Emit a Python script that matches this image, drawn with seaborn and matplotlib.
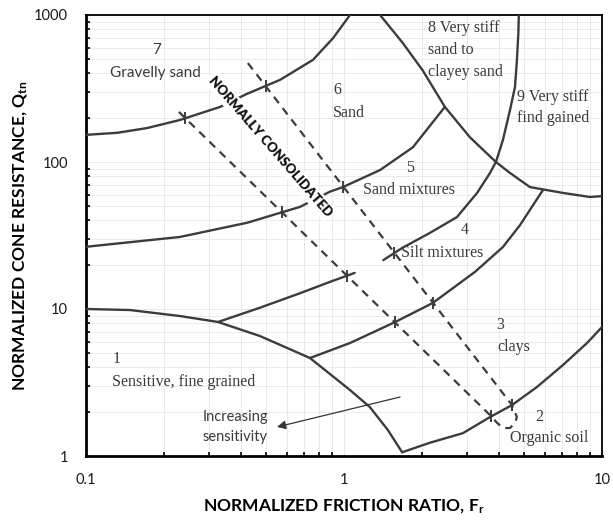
import numpy as np
import matplotlib
matplotlib.use("Agg")
import matplotlib.pyplot as plt
import seaborn as sns

sns.set_theme(style="white")
plt.rcParams["font.family"] = ["Lato", "DejaVu Sans"]
plt.rcParams["mathtext.fontset"] = "custom"
plt.rcParams["mathtext.rm"] = "Lato:bold"
plt.rcParams["mathtext.it"] = "Lato:bold"
plt.rcParams["mathtext.bf"] = "Lato:bold"

# ---- zone boundaries (normalized friction ratio Fr, normalized cone resistance Qtn)
zone1_fr = [0.10, 0.148, 0.231, 0.325, 0.472, 0.738, 1.055, 1.26, 1.48, 1.68]
zone1_q = [10.0, 9.84, 8.96, 8.16, 6.55, 4.64, 2.81, 2.15, 1.50, 1.06]

organic_fr = [1.68, 2.15, 2.89, 3.68, 4.48, 5.60, 7.06, 8.75, 10.0]
organic_q = [1.06, 1.23, 1.43, 1.84, 2.22, 2.95, 4.16, 5.87, 7.54]

clay_fr = [0.738, 1.055, 1.58, 2.21, 3.22, 4.13, 4.81, 5.90]
clay_q = [4.64, 5.87, 8.16, 11.0, 17.9, 26.4, 37.2, 64.4]

siltlow_fr = [0.325, 0.472, 0.675, 0.883, 1.10]
siltlow_q = [8.16, 10.2, 12.8, 15.3, 17.6]

silt_fr = [1.42, 1.68, 2.15, 2.74, 3.28, 3.68, 3.88, 4.13, 4.40, 4.60, 4.68, 4.74, 4.76]
silt_q = [21.5, 26.0, 32.9, 42.2, 61.6, 84.2, 100, 141, 226, 324, 495, 754, 1000]

sand_fr = [0.10, 0.231, 0.421, 0.675, 0.883, 0.99, 1.38, 1.85, 2.46]
sand_q = [26.5, 30.9, 38.6, 49.5, 62.9, 67.5, 88.2, 126, 237]

gravel_fr = [0.10, 0.132, 0.172, 0.231, 0.331, 0.421, 0.565, 0.758, 0.908, 1.055]
gravel_q = [153, 158, 170, 193, 237, 291, 362, 495, 698, 1000]

stiff_fr = [1.38, 1.69, 2.02, 2.46, 3.08, 3.88, 4.40, 5.26, 7.06, 8.98, 10.0]
stiff_q = [1000, 645, 419, 237, 147, 100, 84.2, 67.5, 61.6, 57.8, 58.6]

# normally consolidated band: right edge down, rounded toe, left edge up
nc_fr = [0.424, 4.48, 4.68, 4.60, 4.40, 4.13, 3.92, 3.68, 0.221]
nc_q = [471, 2.22, 1.84, 1.68, 1.55, 1.55, 1.68, 1.90, 233]

x_ticks = [0.1, 1, 10]
x_tick_labels = ["0.1", "1", "10"]
y_ticks = [1, 10, 100, 1000]
y_tick_labels = ["1", "10", "100", "1000"]

LINE = "#3c3c3c"
TEXT = "#3a3a3a"

fig = plt.figure(figsize=(6.13, 5.21), dpi=100)
ax = fig.add_axes([86 / 613, 65 / 521, 516 / 613, 441 / 521])
ax.set_xscale("log")
ax.set_yscale("log")
ax.set_xlim(0.1, 10)
ax.set_ylim(1, 1000)

ax.grid(True, which="both", color="#e6e6e6", lw=0.6)
ax.set_axisbelow(True)

solid = [
    (zone1_fr, zone1_q),
    (organic_fr, organic_q),
    (clay_fr, clay_q),
    (siltlow_fr, siltlow_q),
    (silt_fr, silt_q),
    (sand_fr, sand_q),
    (gravel_fr, gravel_q),
    (stiff_fr, stiff_q),
]
for fr, q in solid:
    sns.lineplot(x=fr, y=q, ax=ax, sort=False, estimator=None,
                 color=LINE, lw=1.7, zorder=3)

sns.lineplot(x=nc_fr, y=nc_q, ax=ax, sort=False, estimator=None,
             color=LINE, lw=1.6, linestyle=(0, (3.6, 2.8)), zorder=3)


def crossings(ax_, ay_, bx_, by_):
    """Intersections of two polylines, computed in log-log space."""
    a = np.log10(np.column_stack([ax_, ay_]))
    b = np.log10(np.column_stack([bx_, by_]))
    pts = []
    for i in range(len(a) - 1):
        p, r = a[i], a[i + 1] - a[i]
        for j in range(len(b) - 1):
            s0, s = b[j], b[j + 1] - b[j]
            den = r[0] * s[1] - r[1] * s[0]
            if abs(den) < 1e-12:
                continue
            d = s0 - p
            t = (d[0] * s[1] - d[1] * s[0]) / den
            u = (d[0] * r[1] - d[1] * r[0]) / den
            if 0 <= t <= 1 and 0 <= u <= 1:
                pts.append(10 ** (p + t * r))
    return pts


# small cross marks where the NC band meets the zone boundaries
marks = []
for fr, q in solid:
    marks += crossings(nc_fr, nc_q, fr, q)
if marks:
    marks = np.array(marks)
    ax.plot(marks[:, 0], marks[:, 1], ls="none", marker="|", ms=8,
            mew=1.4, color=LINE, zorder=3)

# normally consolidated label with a white backing
ax.text(0.517, 128, "NORMALLY CONSOLIDATED", rotation=-49, rotation_mode="anchor",
        ha="center", va="center", fontsize=9.5, fontweight="heavy", color="#111111",
        bbox=dict(facecolor="white", edgecolor="none", pad=2), zorder=6)

serif = dict(family="Liberation Serif", fontsize=11.5, color=TEXT, va="center")
sans = dict(fontsize=11, color=TEXT, va="center")

ax.text(0.188, 578, "7", ha="center", **sans)
ax.text(0.124, 403, "Gravelly sand", ha="left", **sans)
ax.text(0.906, 309, "6", ha="left", **serif)
ax.text(0.906, 215, "Sand", ha="left", **serif)
ax.text(2.12, 816, "8 Very stiff", ha="left", **serif)
ax.text(2.12, 578, "sand to", ha="left", **serif)
ax.text(2.12, 409, "clayey sand", ha="left", **serif)
ax.text(4.68, 277, "9 Very stiff", ha="left", **serif)
ax.text(4.68, 199, "find gained", ha="left", **serif)
ax.text(1.80, 91, "5", ha="center", **serif)
ax.text(1.185, 64.5, "Sand mixtures", ha="left", **serif)
ax.text(2.94, 34.5, "4", ha="center", **serif)
ax.text(1.67, 24.0, "Silt mixtures", ha="left", **serif)
ax.text(4.03, 7.78, "3", ha="center", **serif)
ax.text(3.92, 5.51, "clays", ha="left", **serif)
ax.text(5.70, 1.84, "2", ha="center", **serif)
ax.text(4.40, 1.326, "Organic soil", ha="left", **serif)
ax.text(0.127, 4.57, "1", ha="left", **serif)
ax.text(0.126, 3.19, "Sensitive, fine grained", ha="left", **serif)
ax.text(0.378, 1.84, "Increasing", ha="center", fontsize=10.5, color=TEXT, va="center")
ax.text(0.378, 1.35, "sensitivity", ha="center", fontsize=10.5, color=TEXT, va="center")

ax.annotate("", xy=(0.55, 1.575), xytext=(1.65, 2.52),
            arrowprops=dict(arrowstyle="-|>", color="#333333", lw=0.9,
                            mutation_scale=13, shrinkA=0, shrinkB=0), zorder=4)

# axes styling
for side in ["left", "bottom"]:
    ax.spines[side].set_linewidth(2.0)
for side in ["top", "right"]:
    ax.spines[side].set_linewidth(1.3)
for sp in ax.spines.values():
    sp.set_color("black")

ax.set_xticks(x_ticks)
ax.set_xticklabels(x_tick_labels)
ax.set_yticks(y_ticks)
ax.set_yticklabels(y_tick_labels)
ax.tick_params(which="major", direction="in", length=5, width=1.5, color="black",
               labelsize=10.5, labelcolor="#1a1a1a", top=False, right=False)
ax.tick_params(axis="x", which="major", pad=12)
ax.tick_params(axis="y", which="major", pad=13)
ax.tick_params(which="minor", direction="in", length=3, width=1.2, color="black",
               top=False, right=False, bottom=True, left=True)
ax.minorticks_on()
ax.xaxis.set_minor_formatter(plt.NullFormatter())
ax.yaxis.set_minor_formatter(plt.NullFormatter())

ax.set_xlabel("NORMALIZED FRICTION RATIO, F$_r$", fontsize=12.5, fontweight="bold",
              color="black", labelpad=8)
ax.set_ylabel("NORMALIZED CONE RESISTANCE, Q$_{tn}$", fontsize=12.5, fontweight="bold",
              color="black", labelpad=3)

fig.savefig("out.png", dpi=100)
